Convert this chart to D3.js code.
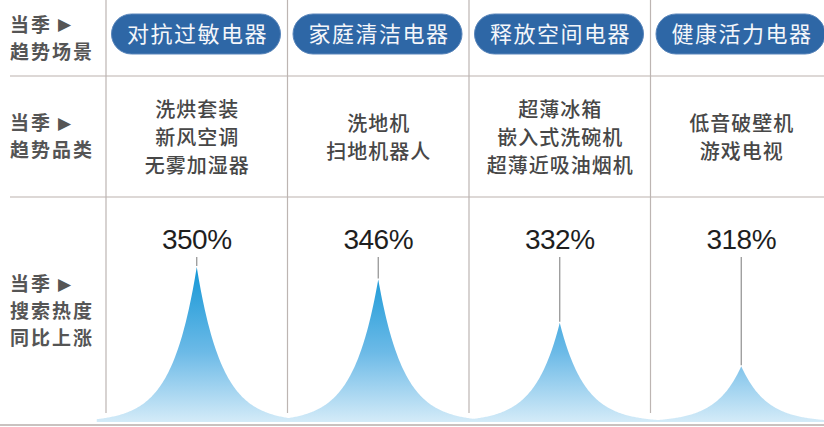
<!DOCTYPE html>
<html>
<head>
<meta charset="utf-8">
<script src="https://cdn.jsdelivr.net/npm/d3@7"></script>
<style>
  body { margin: 0; background: #fff; }
  svg { display: block; }
</style>
</head>
<body>
<div id="chart"></div>
<script>
// data
var scenes = ["对抗过敏电器", "家庭清洁电器", "释放空间电器", "健康活力电器"];
var categories = [
    ["洗烘套装", "新风空调", "无雾加湿器"],
    ["洗地机", "扫地机器人"],
    ["超薄冰箱", "嵌入式洗碗机", "超薄近吸油烟机"],
    ["低音破壁机", "游戏电视"]
];
var growth = [350, 346, 332, 318];
var rowLabels = [
    ["当季", "趋势场景"],
    ["当季", "趋势品类"],
    ["当季", "搜索热度", "同比上涨"]
];

var width = 824, height = 427;
var cjk = "'Noto Sans CJK SC', 'Noto Sans', sans-serif";

var svg = d3.select("#chart").append("svg")
    .attr("width", width)
    .attr("height", height);

// columns
var x = d3.scaleBand()
    .domain(scenes)
    .range([106, 832]);

// row bands: top, middle, bottom
var rows = [[0, 76], [76, 197], [197, 425]];

// spike height scale
var y = d3.scaleLinear()
    .domain([300, 350])
    .range([422, 267]);

var defs = svg.append("defs");
var grad = defs.append("linearGradient")
    .attr("id", "spikeGrad")
    .attr("gradientUnits", "userSpaceOnUse")
    .attr("x1", 0).attr("x2", 0)
    .attr("y1", y(350)).attr("y2", y(300));
grad.append("stop").attr("offset", "0%").attr("stop-color", "#1597d6");
grad.append("stop").attr("offset", "55%").attr("stop-color", "#6cbae7");
grad.append("stop").attr("offset", "100%").attr("stop-color", "#d4ebf8");

// grid lines
var lineColor = "#bdb5b2";
svg.selectAll(".hline")
    .data([76, 197])
    .enter()
    .append("line")
    .attr("x1", 10).attr("x2", width)
    .attr("y1", function (d) { return d; })
    .attr("y2", function (d) { return d; })
    .style("stroke", "#d2cbc9")
    .style("stroke-width", 1.5);

svg.selectAll(".vline")
    .data(scenes)
    .enter()
    .append("line")
    .attr("x1", function (d) { return x(d); })
    .attr("x2", function (d) { return x(d); })
    .attr("y1", 0).attr("y2", 413)
    .style("stroke", lineColor)
    .style("stroke-width", 1.2);

// spikes
var offsets = d3.range(-100, 100.5, 1);
var spike = function (i) {
    var cx = x(scenes[i]) + x.bandwidth() / 2;
    var base = y(300), h = base - y(growth[i]);
    var area = d3.area()
        .x(function (d) { return cx + d; })
        .y0(base)
        .y1(function (d) { return base - h * Math.exp(-Math.abs(d) / 25); })
        .curve(d3.curveLinear);
    return area(offsets);
};

svg.selectAll(".spike")
    .data(growth)
    .enter()
    .append("path")
    .attr("d", function (d, i) { return spike(i); })
    .style("fill", "url(#spikeGrad)");

// bottom line
svg.append("line")
    .attr("x1", 0).attr("x2", width)
    .attr("y1", 425).attr("y2", 425)
    .style("stroke", "#c9c2c0")
    .style("stroke-width", 2);

// leader lines
svg.selectAll(".leader")
    .data(growth)
    .enter()
    .append("line")
    .attr("x1", function (d, i) { return x(scenes[i]) + x.bandwidth() / 2; })
    .attr("x2", function (d, i) { return x(scenes[i]) + x.bandwidth() / 2; })
    .attr("y1", 257)
    .attr("y2", function (d) { return y(d) - 1; })
    .style("stroke", "#8f8f8f")
    .style("stroke-width", 1.2);

// value labels
svg.selectAll(".val")
    .data(growth)
    .enter()
    .append("text")
    .attr("x", function (d, i) { return x(scenes[i]) + x.bandwidth() / 2; })
    .attr("y", 249)
    .attr("text-anchor", "middle")
    .style("font-family", "'Liberation Sans', Arial, sans-serif")
    .style("font-size", "28px")
    .style("letter-spacing", "-0.5px")
    .style("fill", "#1e1e1e")
    .text(function (d) { return d + "%"; });

// scene pills
var pill = svg.selectAll(".pill")
    .data(scenes)
    .enter()
    .append("g")
    .attr("transform", function (d) { return "translate(" + (x(d) + 5.5) + ",14)"; });

pill.append("rect")
    .attr("width", 169)
    .attr("height", 40)
    .attr("rx", 20)
    .attr("ry", 20)
    .style("fill", "#2e67a6")
    .style("stroke", "#5a86bb")
    .style("stroke-width", 1);

pill.append("text")
    .attr("x", 86)
    .attr("y", 28)
    .attr("text-anchor", "middle")
    .style("font-family", cjk)
    .style("font-size", "22px")
    .style("letter-spacing", "1.5px")
    .style("fill", "#f4f6fa")
    .text(function (d) { return d; });

// category lists
var lineH = 28;
var cat = svg.selectAll(".cat")
    .data(categories)
    .enter()
    .append("text")
    .attr("text-anchor", "middle")
    .style("font-family", cjk)
    .style("font-size", "20px")
    .style("font-weight", 500)
    .style("letter-spacing", "1px")
    .style("fill", "#474747");

cat.selectAll("tspan")
    .data(function (d, i) {
        return d.map(function (t, j) { return { t: t, j: j, n: d.length, i: i }; });
    })
    .enter()
    .append("tspan")
    .attr("x", function (d) { return x(scenes[d.i]) + x.bandwidth() / 2 + 0.5; })
    .attr("y", function (d) {
        var mid = (rows[1][0] + rows[1][1]) / 2 + 1;
        return mid + (d.j - (d.n - 1) / 2) * lineH + 7;
    })
    .text(function (d) { return d.t; });

// row labels
var rl = svg.selectAll(".rowlabel")
    .data(rowLabels)
    .enter()
    .append("text")
    .style("font-family", cjk)
    .style("font-size", "19px")
    .style("font-weight", 700)
    .style("letter-spacing", "2px")
    .style("fill", "#555");

rl.each(function (d, i) {
    var mid = (rows[i][0] + rows[i][1]) / 2;
    var g = d3.select(this);
    var lh = 27;
    d.forEach(function (t, j) {
        var ty = mid + (j - (d.length - 1) / 2) * lh + 7;
        g.append("tspan").attr("x", 10).attr("y", ty).text(t);
        if (j === 0) {
            g.append("tspan")
                .attr("x", 58)
                .attr("y", ty - 1.5)
                .style("font-size", "17px")
                .style("font-family", "'DejaVu Sans', sans-serif")
                .text("▶");
        }
    });
});
</script>
</body>
</html>
